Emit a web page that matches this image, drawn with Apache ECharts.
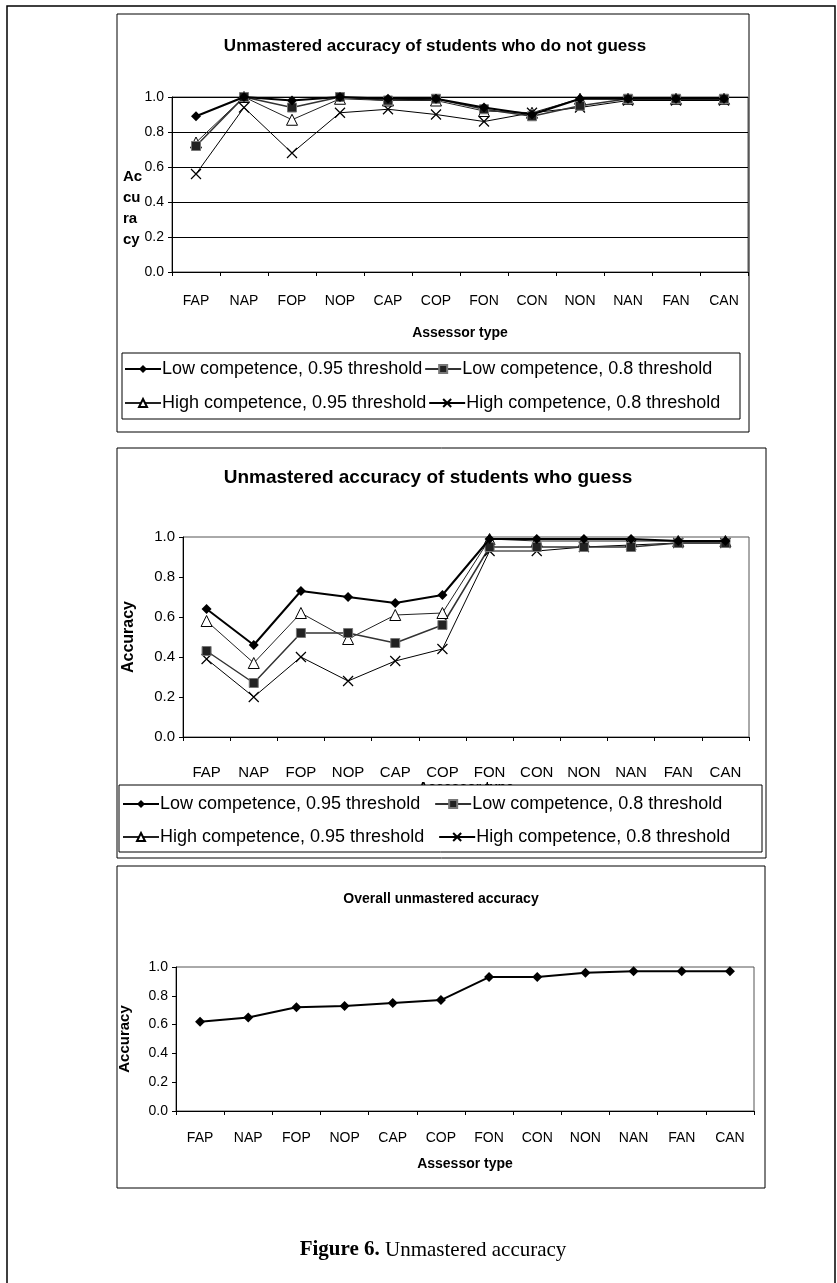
<!DOCTYPE html>
<html><head><meta charset="utf-8">
<script src="https://cdn.jsdelivr.net/npm/echarts@6/dist/echarts.min.js"></script>
<style>html,body{margin:0;padding:0;background:#fff}#c{width:837px;height:1283px}</style>
</head><body><div id="c"></div>
<script>
const categories = ['FAP','NAP','FOP','NOP','CAP','COP','FON','CON','NON','NAN','FAN','CAN'];
const seriesNames = ['Low competence, 0.95 threshold','Low competence, 0.8 threshold','High competence, 0.95 threshold','High competence, 0.8 threshold'];
const chartTitles = ['Unmastered accuracy of students who do not guess','Unmastered accuracy of students who guess','Overall unmastered accuracy'];
const xAxisTitle = 'Assessor type';
const yAxisTitle = 'Accuracy';
// Chart 1: students who do not guess
const noGuessLow95  = [0.89,1.00,0.98,1.00,0.99,0.99,0.94,0.90,0.99,0.99,0.99,0.99];
const noGuessLow80  = [0.72,1.00,0.94,1.00,0.98,0.99,0.93,0.89,0.95,0.99,0.99,0.99];
const noGuessHigh95 = [0.74,1.00,0.87,0.99,0.98,0.98,0.92,0.91,0.99,0.99,0.99,0.99];
const noGuessHigh80 = [0.56,0.94,0.68,0.91,0.93,0.90,0.86,0.91,0.94,0.98,0.98,0.98];
// Chart 2: students who guess
const guessLow95  = [0.64,0.46,0.73,0.70,0.67,0.71,0.99,0.99,0.99,0.99,0.98,0.98];
const guessLow80  = [0.43,0.27,0.52,0.52,0.47,0.56,0.95,0.95,0.95,0.95,0.97,0.97];
const guessHigh95 = [0.58,0.37,0.62,0.49,0.61,0.62,0.99,0.98,0.98,0.98,0.98,0.98];
const guessHigh80 = [0.39,0.20,0.40,0.28,0.38,0.44,0.93,0.93,0.95,0.96,0.97,0.97];
// Chart 3: overall
const overallAcc = [0.62,0.65,0.72,0.73,0.75,0.77,0.93,0.93,0.96,0.97,0.97,0.97];

const FONT = '"Liberation Sans", Arial, sans-serif';
const XPATH = 'path://M0,0L10,10M10,0L0,10';

function styleFor(k){
  if(k===0) return {symbol:'diamond',symbolSize:10,lineStyle:{color:'#000',width:2},itemStyle:{color:'#000'}};
  if(k===1) return {symbol:'rect',symbolSize:9,lineStyle:{color:'#333',width:1.5},itemStyle:{color:'#222',borderColor:'#777',borderWidth:1}};
  if(k===2) return {symbol:'triangle',symbolSize:11,lineStyle:{color:'#222',width:1},itemStyle:{color:'#fff',borderColor:'#000',borderWidth:1}};
  return {symbol:XPATH,symbolSize:10,lineStyle:{color:'#000',width:1},itemStyle:{color:'rgba(0,0,0,0)',borderColor:'#000',borderWidth:1.2}};
}
function mkSeries(name,data,k,gi){
  return Object.assign({type:'line',name:name,data:data,xAxisIndex:gi,yAxisIndex:gi,showSymbol:true,animation:false,z:k===0?4:3},styleFor(k));
}

const grids = [
  {left:172, top:97, width:576, height:175},
  {left:183, top:537, width:566, height:200},
  {left:176, top:967, width:578, height:144}
];
const fs = [14,15,14];

function xAx(gi,showName,margin,nameGap){
  return {type:'category',gridIndex:gi,data:categories,boundaryGap:true,
    axisLine:{lineStyle:{color:'#000',width:1}},
    axisTick:{show:true,length:4,lineStyle:{color:'#000'}},
    axisLabel:{color:'#000',fontSize:fs[gi],fontFamily:FONT,margin:margin},
    name:showName?xAxisTitle:'',nameLocation:'middle',nameGap:nameGap,
    nameTextStyle:{color:'#000',fontSize:14,fontWeight:'bold',fontFamily:FONT}};
}
function yAx(gi,split,name,nameGap){
  return {type:'value',gridIndex:gi,min:0,max:1,interval:0.2,
    axisLine:{show:true,lineStyle:{color:'#000'}},
    axisTick:{show:true,length:4,lineStyle:{color:'#000'}},
    axisLabel:{color:'#000',fontSize:fs[gi],fontFamily:FONT,margin:8,formatter:v=>v.toFixed(1)},
    splitLine:{show:split,lineStyle:{color:'#000',width:1}},
    name:name||'',nameLocation:'middle',nameGap:nameGap||40,nameRotate:90,
    nameTextStyle:{color:'#000',fontSize:gi===1?16:15,fontWeight:'bold',fontFamily:FONT}};
}
function legendRow(left,top,names,gap){
  return {show:true,left:left,top:top,orient:'horizontal',data:names,itemWidth:36,itemHeight:10,itemGap:gap,
    padding:0,selectedMode:false,textStyle:{color:'#000',fontSize:18,fontFamily:FONT,padding:[0,0,0,-4]}};
}

const option = {
  backgroundColor:'#fff',
  animation:false,
  grid: grids.map(g=>Object.assign({show:true,borderColor:'#555',borderWidth:1,backgroundColor:'transparent'},g)),
  xAxis:[xAx(0,true,22,54),xAx(1,true,28,43),xAx(2,true,20,46)],
  yAxis:[yAx(0,true,''),yAx(1,false,yAxisTitle,46),yAx(2,false,yAxisTitle,44)],
  legend:[
    legendRow(124,360,[seriesNames[0],seriesNames[1]],2),
    legendRow(124,394,[seriesNames[2],seriesNames[3]],2),
    legendRow(122,795,[seriesNames[0],seriesNames[1]],14),
    legendRow(122,828,[seriesNames[2],seriesNames[3]],14)
  ],
  graphic:[
    {type:'rect',shape:{x:7,y:6,width:828,height:1300},style:{fill:'none',stroke:'#000',lineWidth:1.5},z:0,silent:true},
    {type:'rect',shape:{x:117,y:14,width:632,height:418},style:{fill:'none',stroke:'#000',lineWidth:1},z:0,silent:true},
    {type:'rect',shape:{x:117,y:448,width:649,height:410},style:{fill:'none',stroke:'#000',lineWidth:1},z:0,silent:true},
    {type:'rect',shape:{x:117,y:866,width:648,height:322},style:{fill:'none',stroke:'#000',lineWidth:1},z:0,silent:true},
    {type:'rect',shape:{x:122,y:353,width:618,height:66},style:{fill:'#fff',stroke:'#000',lineWidth:1},z:3,silent:true},
    {type:'rect',shape:{x:119,y:785,width:643,height:67},style:{fill:'#fff',stroke:'#000',lineWidth:1},z:3,silent:true},
    {type:'text',x:435,y:46,style:{text:chartTitles[0],textAlign:'center',textVerticalAlign:'middle',font:'bold 17px '+FONT,fill:'#000'},z:5},
    {type:'text',x:428,y:478,style:{text:chartTitles[1],textAlign:'center',textVerticalAlign:'middle',font:'bold 19px '+FONT,fill:'#000'},z:5},
    {type:'text',x:441,y:899,style:{text:chartTitles[2],textAlign:'center',textVerticalAlign:'middle',font:'bold 14px '+FONT,fill:'#000'},z:5},
    {type:'text',x:123,y:166,style:{text:'Ac\ncu\nra\ncy',textAlign:'left',font:'bold 15px '+FONT,lineHeight:21,fill:'#000'},z:5},
    {type:'text',x:433,y:1250,style:{text:'{b|Figure 6.} Unmastered accuracy',textAlign:'center',textVerticalAlign:'middle',font:'21px "Liberation Serif", "DejaVu Serif", serif',fill:'#000',
      rich:{b:{fontWeight:'bold',fontSize:21,fontFamily:'"Liberation Serif", serif'}}},z:5}
  ],
  series:[
    mkSeries(seriesNames[3],noGuessHigh80,3,0),
    mkSeries(seriesNames[2],noGuessHigh95,2,0),
    mkSeries(seriesNames[1],noGuessLow80,1,0),
    mkSeries(seriesNames[0],noGuessLow95,0,0),
    mkSeries(seriesNames[3],guessHigh80,3,1),
    mkSeries(seriesNames[2],guessHigh95,2,1),
    mkSeries(seriesNames[1],guessLow80,1,1),
    mkSeries(seriesNames[0],guessLow95,0,1),
    Object.assign(mkSeries('Overall',overallAcc,0,2),{lineStyle:{color:'#000',width:2}})
  ]
};
const chart = echarts.init(document.getElementById('c'),null,{renderer:'canvas'});
chart.setOption(option);
</script></body></html>
